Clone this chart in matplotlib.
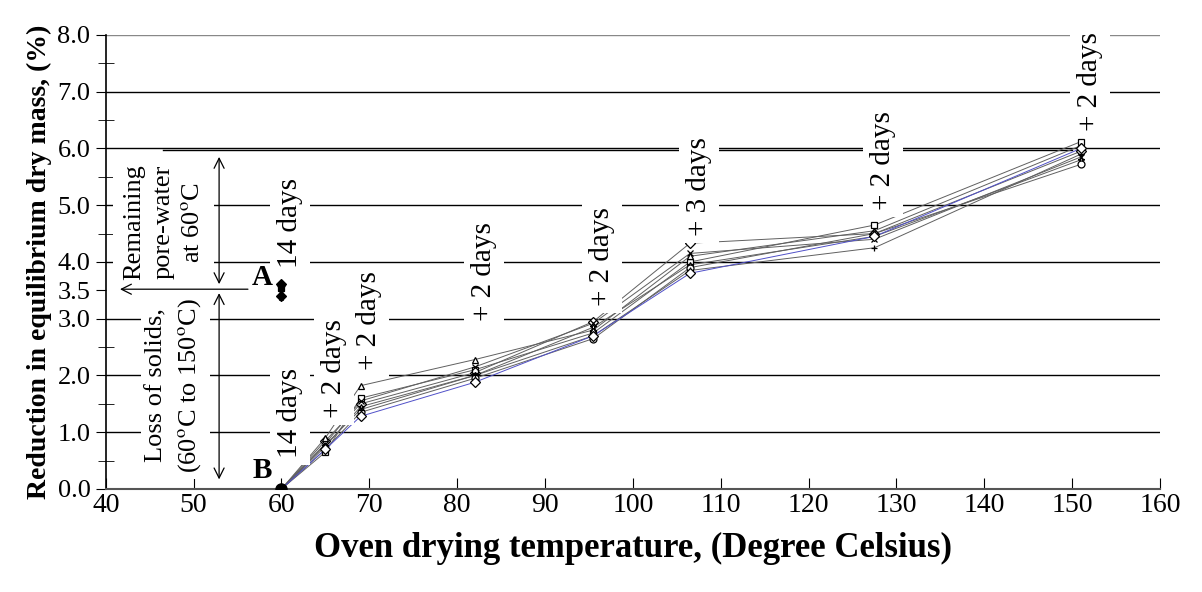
import matplotlib
matplotlib.use("Agg")
import matplotlib.pyplot as plt
import numpy as np

plt.rcParams['font.family'] = ['Liberation Serif', 'DejaVu Serif']
plt.rcParams['mathtext.fontset'] = 'stix'

# oven temperatures of the heating steps (after the 60 C / 14 days reference)
temps = [60, 65, 69, 82, 95.5, 106.5, 127.5, 151]

# reduction in equilibrium dry mass (%) for each specimen
s1 = [0, 0.85, 1.50, 2.05, 2.95, 4.33, 4.50, 5.95]
s2 = [0, 0.65, 1.60, 2.10, 2.75, 4.00, 4.65, 6.12]
s3 = [0, 0.90, 1.82, 2.28, 2.80, 4.10, 4.55, 6.05]
s4 = [0, 0.80, 1.55, 2.15, 2.92, 4.15, 4.40, 5.85]
s5 = [0, 0.75, 1.45, 2.00, 2.85, 3.95, 4.45, 5.80]
s6 = [0, 0.70, 1.35, 1.95, 2.65, 3.90, 4.50, 5.72]
s7 = [0, 0.78, 1.40, 2.00, 2.70, 3.85, 4.25, 5.90]
s8 = [0, 0.70, 1.28, 1.88, 2.70, 3.80, 4.45, 6.00]
series = [s1, s2, s3, s4, s5, s6, s7, s8]

# point A: remaining pore water at 60 C (relative to 150 C state)
a_values = [3.62, 3.55, 3.58, 3.45, 3.38, 3.60, 3.50, 3.40]

markers = ['D', 's', '^', 'x', '*', 'o', '+', 'D']
line_colors = ['#606060'] * 7 + ['#5050c8']

step_labels = ['14 days', '+ 2 days', '+ 2 days', '+ 2 days', '+ 2 days',
               '+ 3 days', '+ 2 days', '+ 2 days']

fig = plt.figure(figsize=(12.02, 5.92), dpi=100)
ax = fig.add_axes([0.088, 0.174, 0.877, 0.767])

ax.set_xlim(40, 160)
ax.set_ylim(0, 8)

# grid lines at the integer values
for g in range(0, 9):
    ax.axhline(g, color='#888888' if g == 8 else 'black', lw=1.0, zorder=0)

for vals, m, c in zip(series, markers, line_colors):
    ax.plot(temps, vals, color=c, lw=0.7, zorder=2)
    ax.plot(temps, vals, ls='none', marker=m, ms=5, mfc='white', mec='black',
            mew=0.9, zorder=3)

for v, m in zip(a_values, markers):
    ax.plot(60, v, ls='none', marker=m, ms=5, mfc='black', mec='black', mew=0.9,
            zorder=3)
ax.plot(60, 0, ls='none', marker='o', ms=8, color='black', zorder=4)

tops = [max(col) for col in zip(*series)]
offsets = [0.55, 0.35, 0.28, 0.68, 0.28, 0.12, 0.26, 0.18]
box = dict(facecolor='white', edgecolor='none', pad=5)
for t, top, off, lab in zip(temps, tops, offsets, step_labels):
    ax.text(t + 1.0, top + off, lab, rotation=90, ha='center', va='bottom',
            fontsize=21, bbox=box, zorder=5)
ax.text(61.0, max(a_values) + 0.28, '14 days', rotation=90, ha='center',
        va='bottom', fontsize=21, bbox=box, zorder=5)

ax.text(57.8, 3.72, 'A', fontsize=21, fontweight='bold', ha='center',
        va='center', zorder=6)
ax.text(57.8, 0.33, 'B', fontsize=21, fontweight='bold', ha='center',
        va='center', zorder=6)

# dimension annotations
ax.text(46.6, 4.7, 'Remaining\npore-water\nat 60$^{\\mathrm{o}}$C', rotation=90,
        ha='center', va='center', multialignment='center', fontsize=19,
        linespacing=1.45, zorder=5,
        bbox=dict(facecolor='white', edgecolor='none', pad=7))
ax.text(47.8, 1.83, 'Loss of solids,\n(60$^{\\mathrm{o}}$C to 150$^{\\mathrm{o}}$C)',
        rotation=90, ha='center', va='center', multialignment='center',
        fontsize=19, linespacing=1.45, zorder=5,
        bbox=dict(facecolor='white', edgecolor='none', pad=5))
ax.plot([46.5, 150], [5.97, 5.97], color='black', lw=1.0, zorder=1)
arr = dict(arrowstyle='<->', color='black', lw=0.9, mutation_scale=18)
ax.annotate('', xy=(52.9, 5.9), xytext=(52.9, 3.56), arrowprops=arr, zorder=6)
ax.annotate('', xy=(52.9, 3.5), xytext=(52.9, 0.12), arrowprops=arr, zorder=6)
ax.annotate('', xy=(41.3, 3.52), xytext=(56.5, 3.52),
            arrowprops=dict(arrowstyle='->', color='black', lw=0.9,
                            mutation_scale=18), zorder=6)

# axes styling
ax.spines['top'].set_visible(False)
ax.spines['right'].set_visible(False)
ax.spines['left'].set_linewidth(1.2)
ax.spines['bottom'].set_color('#555555')
ax.spines['bottom'].set_linewidth(1.5)

ax.set_xticks(np.arange(40, 161, 10))
ax.tick_params(axis='x', direction='in', length=8, labelsize=20, pad=3)
yt = [0, 1, 2, 3, 3.5, 4, 5, 6, 7, 8]
ax.set_yticks(yt)
ax.set_yticklabels(['%.1f' % v for v in yt])
ax.set_yticks(np.arange(0.5, 8, 1.0), minor=True)
ax.tick_params(axis='y', which='major', direction='out', length=7,
               labelsize=19, pad=4)
ax.tick_params(axis='y', which='minor', direction='inout', length=12)

ax.set_xlabel('Oven drying temperature, (Degree Celsius)', fontsize=25,
              fontweight='bold', labelpad=10)
ax.set_ylabel('Reduction in equilibrium dry mass, (%)', fontsize=20,
              fontweight='bold', labelpad=4)

fig.savefig('out.png', dpi=100)
